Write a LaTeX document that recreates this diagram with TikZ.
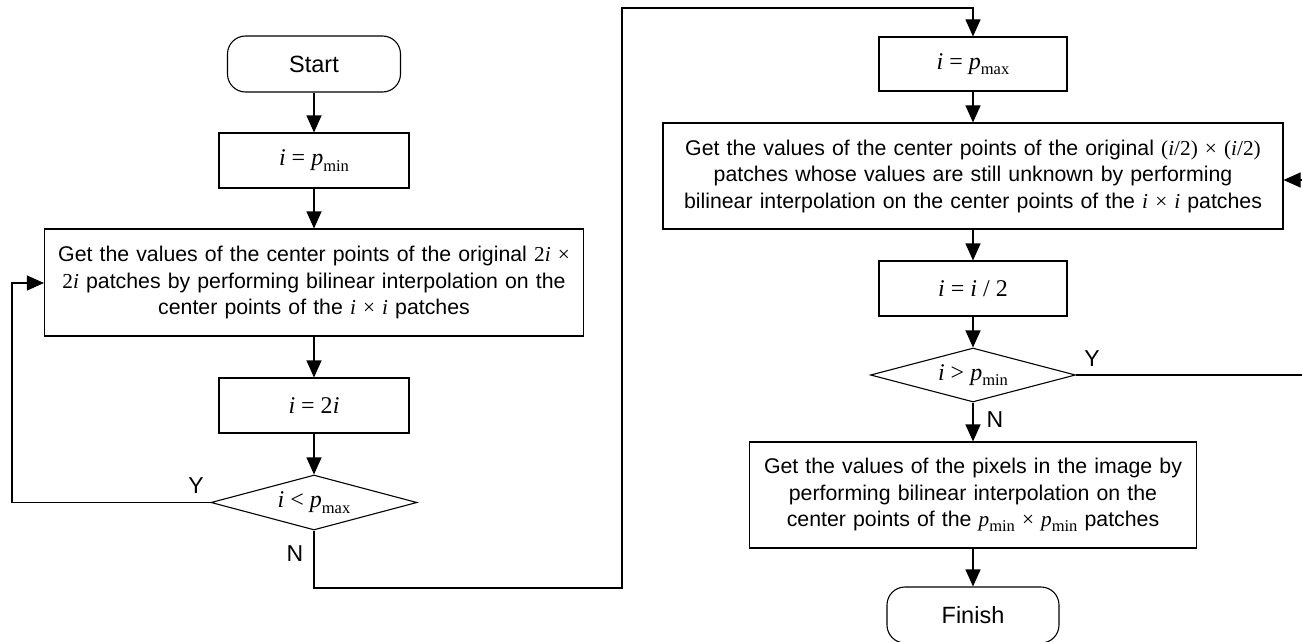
\documentclass[tikz,border=0pt]{standalone}
\usepackage{fontspec}
\setmainfont{Liberation Sans}
\newfontfamily\tnr{Liberation Serif}
\usetikzlibrary{shapes.geometric,arrows.meta}

\newcommand{\vi}{{\tnr\itshape i}}
\newcommand{\pv}[1]{{\tnr\itshape p}\raisebox{-0.22em}{\tnr\fontsize{16.5}{16.5}\selectfont #1}}

\begin{document}
\begin{tikzpicture}[x=1pt,y=-1pt,line width=1.1pt]

    \tikzset{
      terminal/.style={
        draw,
        rounded corners=18pt,
        minimum width=173pt,
        minimum height=56pt,
        inner sep=0pt,
        font=\fontsize{23.5}{26}\selectfont,
      },
      assign/.style={
        draw,
        minimum width=190pt,
        minimum height=55pt,
        inner sep=0pt,
        font=\tnr\fontsize{24}{26}\selectfont,
      },
      process/.style={
        draw,
        inner sep=0pt,
        align=center,
        font=\fontsize{21.3}{26.5}\selectfont,
      },
      decision/.style={
        draw,
        diamond,
        aspect=3.75,
        minimum width=206pt,
        minimum height=55pt,
        inner sep=0pt,
        font=\tnr\fontsize{24}{26}\selectfont,
      },
      flow/.style={-{Triangle[length=17pt,width=15pt]}},
      branch/.style={font=\fontsize{23}{26}\selectfont},
    }
    \useasboundingbox (0,0) rectangle (1302,642);

    % left column
    \node[terminal] (start) at (314,64) {Start};
    \node[assign] (init) at (314,160.5) {\vi{} = \pv{min}};
    \node[process, minimum width=539pt, minimum height=107pt, text width=535pt] (interp) at (314,282.5)
      {Get the values of the center points of the original {\tnr 2\textit{i} ×}\\
       {\tnr 2\textit{i}} patches by performing bilinear interpolation on the\\
       center points of the \vi{} {\tnr ×} \vi{} patches};
    \node[assign] (double) at (314,405.5) {\vi{} = 2\vi};
    \node[decision] (lt) at (314,502.5) {\vi{} < \pv{max}};

    % right column
    \node[assign, minimum width=188pt, minimum height=54pt] (reset) at (973,64) {\vi{} = \pv{max}};
    \node[process, minimum width=620pt, minimum height=106pt, text width=616pt] (fill) at (973,176)
      {Get the values of the center points of the original {\tnr(\textit{i}/2) × (\textit{i}/2)}\\
       patches whose values are still unknown by performing\\
       bilinear interpolation on the center points of the \vi{} {\tnr ×} \vi{} patches};
    \node[assign, minimum width=188pt] (half) at (973,288.5) {\vi{} = \vi{} / 2};
    \node[decision, minimum width=205pt, minimum height=54pt] (gt) at (973,375) {\vi{} > \pv{min}};
    \node[process, minimum width=447pt, minimum height=106pt, text width=443pt] (pixels) at (973,495)
      {Get the values of the pixels in the image by\\
       performing bilinear interpolation on the\\
       center points of the \pv{min} {\tnr ×} \pv{min} patches};
    \node[terminal, minimum width=172pt] (finish) at (973,615) {Finish};

    \coordinate (yl) at (12,283);
    \coordinate (nl) at (622,588);
    \coordinate (top) at (622,8);
    \coordinate (yr) at (1303,180);

    \draw[flow] (start) -- (init);
    \draw[flow] (init) -- (interp);
    \draw[flow] (interp) -- (double);
    \draw[flow] (double) -- (lt);
    \draw[flow] (lt.west) -| (yl) -- (interp.west |- yl);
    \draw[flow] (lt.south) |- (nl) -- (top) -| (reset.north);
    \draw[flow] (reset) -- (fill);
    \draw[flow] (fill) -- (half);
    \draw[flow] (half) -- (gt);
    \draw[flow] (gt) -- (pixels);
    \draw[flow] (gt.east) -| (yr) -- (fill.east |- yr);
    \draw[flow] (pixels) -- (finish);

    \node[branch] (ltyes) at (196,486) {Y};
    \node[branch] (ltno) at (295,554) {N};
    \node[branch] (gtyes) at (1092,359) {Y};
    \node[branch] (gtno) at (995,420) {N};

\end{tikzpicture}
\end{document}
